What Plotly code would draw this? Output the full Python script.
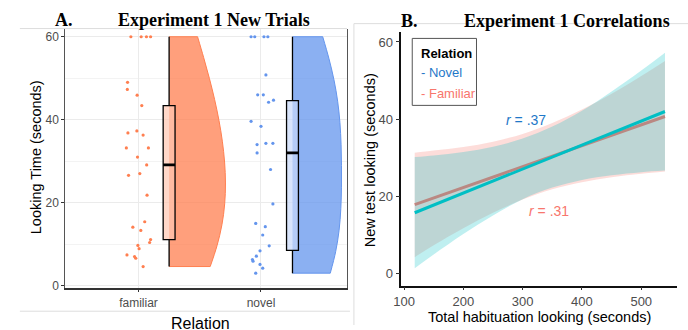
import plotly.graph_objects as go

# ---------------- Panel A data ----------------
categories = ["familiar", "novel"]
familiar_vals = [60, 60, 60, 60, 49.0, 47.3, 45.9, 43.4, 36.8, 37.3, 36.3, 33.2, 33.2, 31.0,
                 29.1, 26.6, 27.0, 21.8, 15.4, 14.1, 13.3, 11.1, 10.4, 9.7, 8.9, 7.4, 7.0, 6.6, 4.6]
familiar_jit = [-0.062, 0.022, 0.065, 0.099, -0.089, -0.091, -0.011, 0.027, -0.086, -0.013, 0.038,
                -0.099, 0.081, -0.008, 0.067, -0.081, 0.011, 0.070, 0.051, -0.046, 0.019, 0.099,
                0.091, -0.005, 0.005, -0.094, -0.032, -0.022, 0.038]
novel_vals = [60, 60, 60, 60, 50.8, 46.0, 46.0, 44.7, 44.2, 39.6, 38.4, 34.0, 34.3, 34.3, 32.0,
              28.0, 19.7, 15.0, 14.2, 12.2, 9.6, 8.4, 7.1, 6.3, 5.9, 5.1, 4.2, 3.0]
novel_jit = [-0.081, -0.051, 0.024, 0.056, 0.040, -0.027, 0.019, 0.102, 0.062, -0.081, 0.0,
             -0.032, 0.040, 0.097, -0.032, 0.078, 0.097, -0.043, 0.035, 0.014, 0.067, -0.008,
             -0.038, -0.070, -0.065, -0.008, 0.014, -0.043]
# box statistics: familiar, novel
box_q1 = [11.1, 8.5]
box_median = [29.1, 32.0]
box_q3 = [43.4, 44.6]
box_low = [4.6, 3.0]
box_high = [60, 60]

# ---------------- Panel B data ----------------
hab_x = [118, 540]
novel_fit = [15.8, 42.0]
familiar_fit = [17.9, 40.7]
band_x = [118, 150, 200, 250, 300, 350, 400, 450, 500, 540]
fam_upper = [31.3, 31.9, 32.8, 34.2, 36.2, 39.0, 42.5, 46.6, 51.2, 55.1]
fam_lower = [4.3, 7.4, 11.8, 15.8, 19.2, 21.9, 23.7, 25.0, 25.9, 26.5]
nov_upper = [30.2, 30.6, 31.5, 32.9, 35.0, 38.1, 42.2, 47.2, 52.6, 57.2]
nov_lower = [1.45, 5.0, 10.3, 15.1, 19.3, 22.3, 24.3, 25.5, 26.3, 26.7]
r_labels = ["r = .37", "r = .31"]

W, H = 688, 330
def px(x): return x / W
def py(y): return 1 - y / H

CORAL = "#FF7F50"
CORNFLOWER = "#6495ED"
TEAL = "#00BFC4"
SALMON = "#F8766D"

fig = go.Figure()

cat_pos = [1, 2]
violin_off = [0.25, 0.257]
violin_w = [0.92, 0.80]
box_w = 0.097
fills = ["rgba(255,127,80,0.75)", "rgba(100,149,237,0.75)"]
box_fills = ["rgba(255,200,178,0.7)", "rgba(200,216,250,0.7)"]
point_cols = [CORAL, CORNFLOWER]
vals = [familiar_vals, novel_vals]
jits = [familiar_jit, novel_jit]
lines = [CORAL, CORNFLOWER]

for i in range(2):
    fig.add_trace(go.Scatter(
        x=[cat_pos[i] + j for j in jits[i]], y=vals[i], mode="markers",
        marker=dict(color=point_cols[i], size=3.2), xaxis="x", yaxis="y", showlegend=False,
        hoverinfo="skip"))
    fig.add_trace(go.Violin(
        x0=cat_pos[i] + violin_off[i], y=vals[i], side="positive", width=violin_w[i],
        spanmode="hard", bandwidth=16, points=False, box_visible=False, meanline_visible=False,
        fillcolor=fills[i], line=dict(color=lines[i], width=1), scalemode="width",
        scalegroup="g%d" % i, xaxis="x", yaxis="y", showlegend=False, hoverinfo="skip"))
for i in range(2):
    bx = cat_pos[i] + violin_off[i]
    fig.add_trace(go.Box(
        x=[bx], q1=[box_q1[i]], median=[box_median[i]], q3=[box_q3[i]],
        lowerfence=[box_low[i]], upperfence=[box_high[i]], width=box_w, whiskerwidth=0,
        fillcolor=box_fills[i], line=dict(color="black", width=1.3), boxpoints=False,
        xaxis="x", yaxis="y", showlegend=False, hoverinfo="skip"))
    fig.add_trace(go.Scatter(
        x=[bx - box_w / 2, bx + box_w / 2], y=[box_median[i], box_median[i]], mode="lines",
        line=dict(color="black", width=2.6), xaxis="x", yaxis="y", showlegend=False,
        hoverinfo="skip"))

# ---- Panel B ----
def band(xs, lo, hi, color):
    fig.add_trace(go.Scatter(x=xs, y=lo, mode="lines", line=dict(width=0, shape="spline"),
                             xaxis="x2", yaxis="y2", showlegend=False, hoverinfo="skip"))
    fig.add_trace(go.Scatter(x=xs, y=hi, mode="lines", line=dict(width=0, shape="spline"),
                             fill="tonexty", fillcolor=color, xaxis="x2", yaxis="y2",
                             showlegend=False, hoverinfo="skip"))

band(band_x, fam_lower, fam_upper, "rgba(248,118,109,0.25)")
fig.add_trace(go.Scatter(x=hab_x, y=familiar_fit, mode="lines", line=dict(color=SALMON, width=3),
                         xaxis="x2", yaxis="y2", showlegend=False))
band(band_x, nov_lower, nov_upper, "rgba(0,191,196,0.25)")
fig.add_trace(go.Scatter(x=hab_x, y=novel_fit, mode="lines", line=dict(color=TEAL, width=3),
                         xaxis="x2", yaxis="y2", showlegend=False))

tickfont_a = dict(family="Liberation Sans, Arial", size=12, color="#4D4D4D")
tickfont_b = dict(family="Liberation Sans, Arial", size=13, color="#4D4D4D")

fig.update_layout(
    width=W, height=H, margin=dict(l=0, r=0, t=0, b=0),
    paper_bgcolor="white", plot_bgcolor="white",
    violinmode="overlay", boxmode="overlay",
    xaxis=dict(domain=[px(58), px(343)], range=[0.403, 2.702], tickvals=cat_pos,
               ticktext=categories, showgrid=True, gridcolor="#EBEBEB", gridwidth=1,
               zeroline=False, showline=True, linecolor="#333333", linewidth=1.5,
               ticks="outside", ticklen=3, tickcolor="#333333", tickfont=tickfont_a),
    yaxis=dict(domain=[py(292), py(29)], range=[-0.47, 61.97], tickvals=[0, 20, 40, 60],
               showgrid=True, gridcolor="#EBEBEB", gridwidth=1, zeroline=False,
               minor=dict(tickvals=[10, 30, 50], showgrid=True, gridcolor="#F3F3F3", gridwidth=0.7),
               showline=True, linecolor="#555555", linewidth=1.2, mirror=True,
               ticks="outside", ticklen=3, tickcolor="#333333", tickfont=tickfont_a),
    xaxis2=dict(domain=[px(398), px(677)], range=[95.5, 560.5], tickvals=[100, 200, 300, 400, 500],
                showgrid=False, zeroline=False, showline=True, linecolor="#111111", linewidth=1.5,
                ticks="outside", ticklen=3, tickcolor="#333333", tickfont=tickfont_b,
                anchor="y2"),
    yaxis2=dict(domain=[py(290), py(32)], range=[-3.06, 62.7], tickvals=[0, 20, 40, 60],
                showgrid=False, zeroline=False, showline=True, linecolor="#111111", linewidth=1.5,
                ticks="outside", ticklen=4, tickcolor="#333333", tickfont=tickfont_b,
                anchor="x2"),
)

shapes = [
    dict(type="line", xref="paper", yref="paper", x0=px(12), x1=px(343), y0=py(29), y1=py(29),
         line=dict(color="#DDDDDD", width=1)),
    dict(type="line", xref="paper", yref="paper", x0=px(12), x1=px(346), y0=py(316), y1=py(316),
         line=dict(color="#DDDDDD", width=1)),
    dict(type="line", xref="paper", yref="paper", x0=px(350), x1=px(688), y0=py(24), y1=py(24),
         line=dict(color="#DDDDDD", width=1)),
    dict(type="line", xref="paper", yref="paper", x0=px(350), x1=px(350), y0=py(24), y1=0,
         line=dict(color="#DDDDDD", width=1)),
    dict(type="rect", xref="paper", yref="paper", x0=px(409), x1=px(474), y0=py(107), y1=py(39),
         line=dict(color="#555555", width=1), fillcolor="white"),
]
fig.update_layout(shapes=shapes)

serif = "Liberation Serif, Times New Roman"
sans = "Liberation Sans, Arial"
ann = [
    dict(text="<b>A.</b>", x=px(57), y=py(20), font=dict(family=serif, size=18, color="black")),
    dict(text="<b>Experiment 1 New Trials</b>", x=px(208), y=py(20),
         font=dict(family=serif, size=18, color="black")),
    dict(text="<b>B.</b>", x=px(406), y=py(21), font=dict(family=serif, size=18, color="black")),
    dict(text="<b>Experiment 1 Correlations</b>", x=px(566), y=py(21),
         font=dict(family=serif, size=18, color="black")),
    dict(text="Looking Time (seconds)", x=px(28), y=py(160), textangle=-90,
         font=dict(family=sans, size=14.5, color="black")),
    dict(text="Relation", x=px(195), y=py(318), yanchor="top",
         font=dict(family=sans, size=16, color="black")),
    dict(text="New test looking (seconds)", x=px(366), y=py(163), textangle=-90,
         font=dict(family=sans, size=14.5, color="black")),
    dict(text="Total habituation looking (seconds)", x=px(538), y=py(322),
         font=dict(family=sans, size=14.5, color="black")),
    dict(text="<b>Relation</b>", x=px(416), y=py(54), xanchor="left",
         font=dict(family=sans, size=13, color="black")),
    dict(text="- Novel", x=px(416), y=py(74), xanchor="left",
         font=dict(family=sans, size=13, color="#1F78C8")),
    dict(text="- Familiar", x=px(416), y=py(95), xanchor="left",
         font=dict(family=sans, size=13, color=SALMON)),
]
annotations = []
for a in ann:
    d = dict(xref="paper", yref="paper", showarrow=False, xanchor=a.get("xanchor", "center"),
             yanchor=a.get("yanchor", "middle"))
    d.update(a)
    annotations.append(d)
annotations.append(dict(text="<i>r</i> = .37", x=305.5, y=39.7, xref="x2", yref="y2",
                        showarrow=False, font=dict(family=sans, size=14, color="#1F78C8")))
annotations.append(dict(text="<i>r</i> = .31", x=344, y=16.2, xref="x2", yref="y2",
                        showarrow=False, font=dict(family=sans, size=14, color=SALMON)))
fig.update_layout(annotations=annotations)

fig.write_html("out.html", config={"displayModeBar": False},
               post_script="document.body.style.margin='0';document.body.style.overflow='hidden';")
